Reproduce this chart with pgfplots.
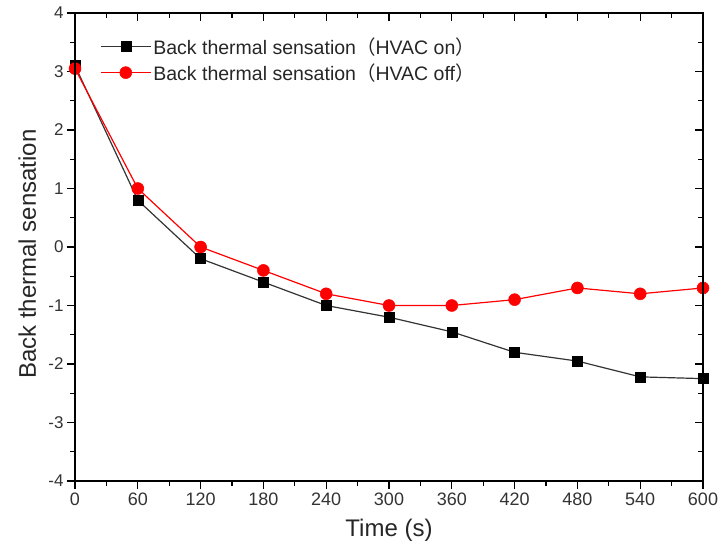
\documentclass[border=0pt]{standalone}
\usepackage{pgfplots}
\pgfplotsset{compat=1.18}
\usepackage{fontspec}
\setmainfont{Liberation Sans}
\newfontfamily\cjk{Noto Sans CJK SC}
\begin{document}
\begin{tikzpicture}
\pgfplotsset{
  common/.style={
    scale only axis,
    width=628pt, height=468pt,
    xmin=0, xmax=600, ymin=-4, ymax=4,
    xtick={0,60,...,600},
    ytick={-4,-3,...,4},
    minor x tick num=1,
    minor y tick num=1,
    axis line style={line width=1.3pt},
    major tick style={line width=1.1pt, black},
    minor tick style={line width=1.1pt, black},
    major tick length=8pt,
    minor tick length=5pt,
  }
}
\begin{axis}[
  common,
  tick align=outside,
  xtick pos=left, ytick pos=left,
  /pgf/number format/assume math mode=true,
  xticklabel style={font=\fontsize{18}{20}\selectfont, text=black!80},
  yticklabel style={font=\fontsize{17}{20}\selectfont, text=black!80},
  xlabel={Time (s)},
  ylabel={Back thermal sensation},
  xlabel style={font=\fontsize{24}{26}\selectfont, text=black!85, at={(axis description cs:0.5,-0.1047)}, anchor=center},
  ylabel style={font=\fontsize{24}{26}\selectfont, text=black!85, at={(axis description cs:-0.0760,0.485)}, anchor=center, rotate=0},
  legend style={at={(axis description cs:0.035,0.957)}, anchor=north west, draw=none, fill=none,
    font=\fontsize{19.5}{21}\selectfont, text=black!85, row sep=4pt,
    /tikz/every even column/.append style={column sep=2pt}},
  legend cell align=left,
  legend image code/.code={\draw[mark repeat=2,mark phase=2] plot coordinates {(0pt,0pt)(25pt,0pt)(50pt,0pt)};},
]
\addplot[black!80, line width=1.2pt, mark=square*, mark size=5pt, mark options={fill=black, draw=black, line width=0.5pt}]
  coordinates {(0,3.1)(60,0.8)(120,-0.2)(180,-0.6)(240,-1.0)(300,-1.2)(360,-1.45)(420,-1.8)(480,-1.95)(540,-2.22)(600,-2.25)};
\addlegendentry{Back thermal sensation{\cjk （}HVAC on{\cjk ）}}
\addplot[red, line width=1.2pt, mark=*, mark size=6pt, mark options={fill=red, draw=red, line width=0.5pt}]
  coordinates {(0,3.05)(60,1.0)(120,0.0)(180,-0.4)(240,-0.8)(300,-1.0)(360,-1.0)(420,-0.9)(480,-0.7)(540,-0.8)(600,-0.7)};
\addlegendentry{Back thermal sensation{\cjk （}HVAC off{\cjk ）}}
\end{axis}
\begin{axis}[
  common,
  tick align=inside,
  xtick pos=right, ytick pos=right,
  xticklabels={}, yticklabels={},
]
\end{axis}
\pgfresetboundingbox
\useasboundingbox (-75pt,-71pt) rectangle (647pt,481pt);
\end{tikzpicture}
\end{document}
